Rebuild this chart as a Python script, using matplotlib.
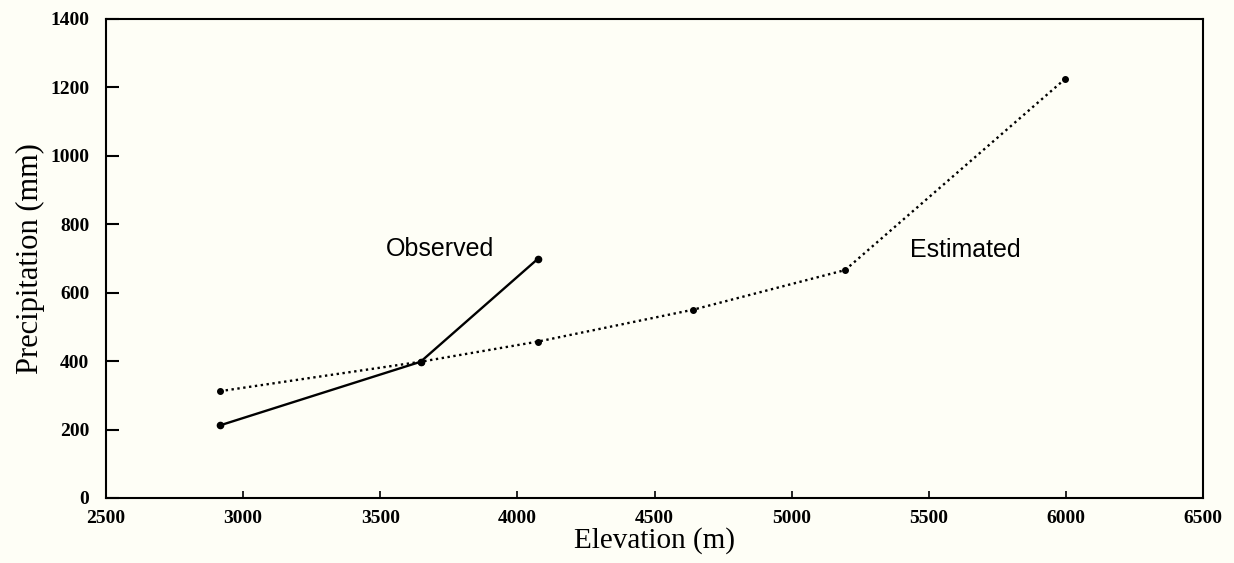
"""
Precipitation vs elevation, observed and estimated.
"""

import matplotlib
matplotlib.use("Agg")
import matplotlib.pyplot as plt

# observed gauge values
elev_obs = [2915, 3647, 4075]
precip_obs = [212, 398, 699]

# estimated profile
elev_est = [2915, 3647, 4075, 4640, 5195, 5995]
precip_est = [312, 398, 457, 550, 666, 1223]

x_ticks = [2500, 3000, 3500, 4000, 4500, 5000, 5500, 6000, 6500]
y_ticks = [0, 200, 400, 600, 800, 1000, 1200, 1400]

bg = "#fefef6"
serif = "Liberation Serif"
sans = "Liberation Sans"

fig = plt.figure(figsize=(12.34, 5.63), dpi=100, facecolor=bg)
ax = fig.add_axes([0.0859, 0.1155, 0.889, 0.851], facecolor=bg)

# Estimated (dotted) and observed (solid)
ax.plot(elev_est, precip_est, color="black", linestyle=(0, (1, 1.5)),
        linewidth=1.7, marker="o", markersize=4)
ax.plot(elev_obs, precip_obs, color="black", linestyle="-",
        linewidth=1.7, marker="o", markersize=4.5)

ax.text(3718, 728, "Observed", fontsize=18, family=sans,
        ha="center", va="center")
ax.text(5632, 725, "Estimated", fontsize=18, family=sans,
        ha="center", va="center")

ax.set_xlim(2500, 6500)
ax.set_ylim(0, 1400)
ax.set_xticks(x_ticks)
ax.set_yticks(y_ticks)
ax.set_xticklabels([str(t) for t in x_ticks], family=serif,
                   fontweight="bold", fontsize=14)
ax.set_yticklabels([str(t) for t in y_ticks], family=serif,
                   fontweight="bold", fontsize=14)
ax.tick_params(axis="y", direction="in", length=9, width=1.5, pad=12)
ax.tick_params(axis="x", direction="in", length=5, width=1.2, pad=9)

for s in ax.spines.values():
    s.set_linewidth(1.5)
    s.set_color("black")

ax.set_xlabel("Elevation (m)", family=serif, fontsize=21, labelpad=0)
ax.set_ylabel("Precipitation (mm)", family=serif, fontsize=22, labelpad=4)

fig.savefig("out.png", dpi=100, facecolor=bg)
